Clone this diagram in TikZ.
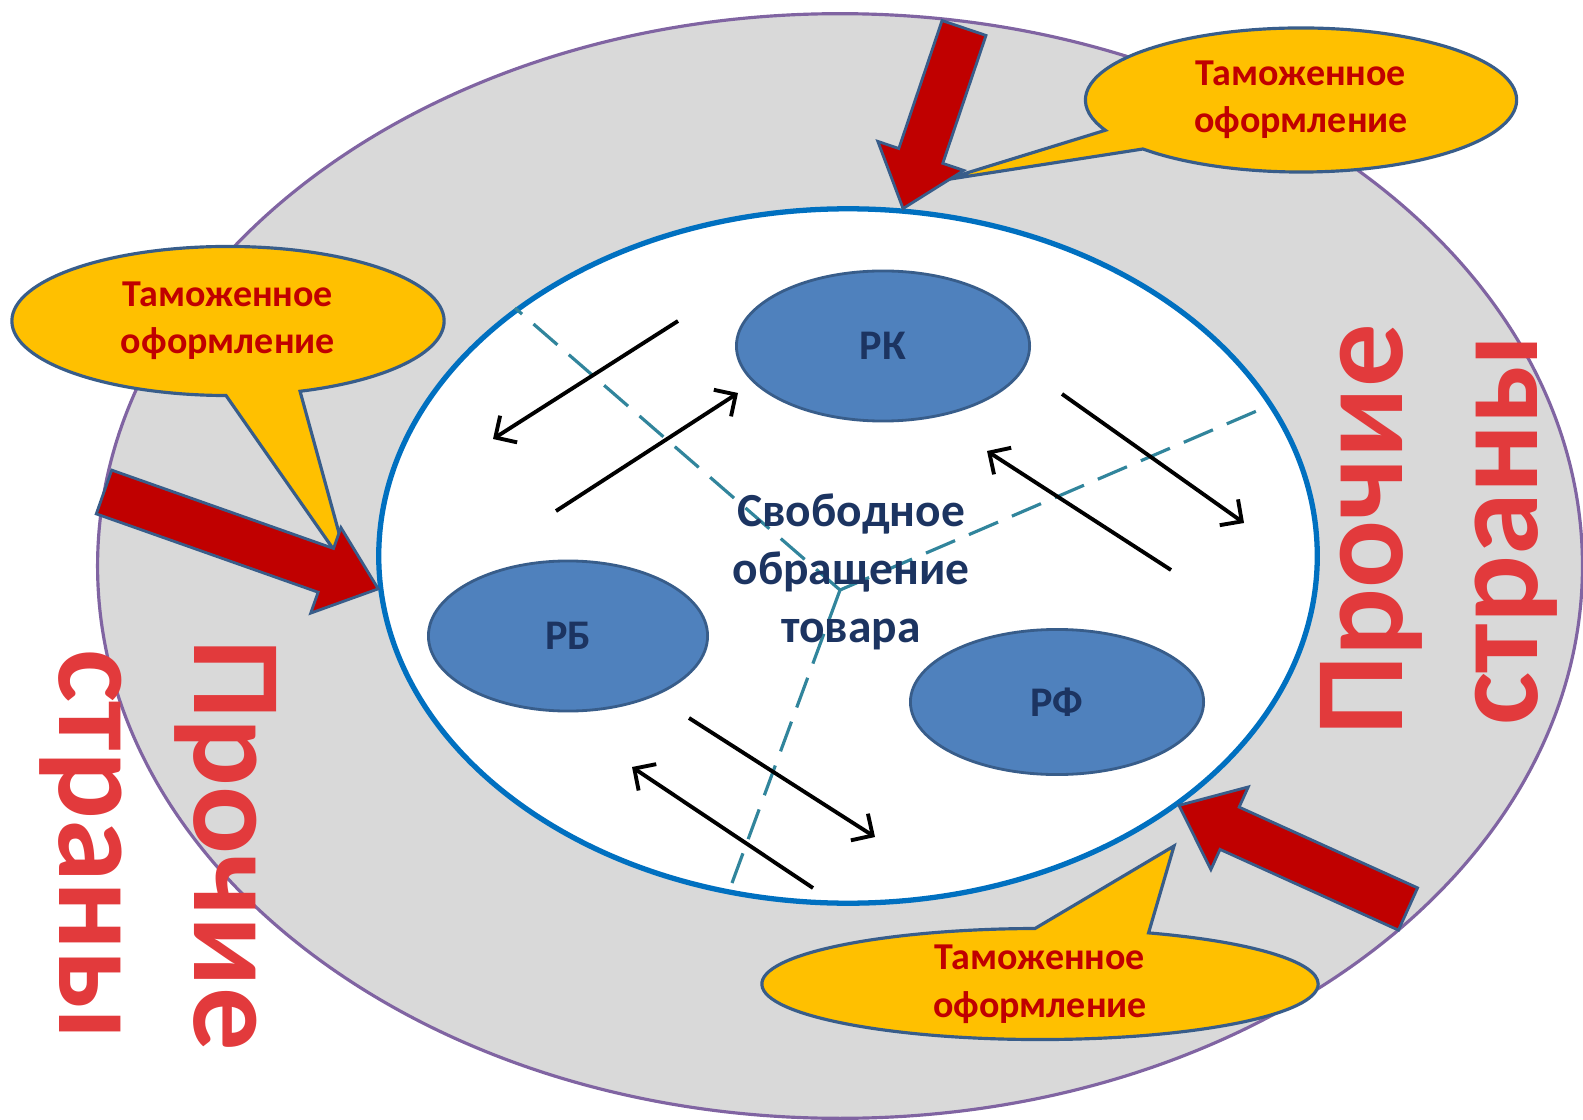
\documentclass[tikz,border=0pt]{standalone}
\usepackage{fontspec}
\setmainfont{Carlito}
\usepackage{tikz}
\usetikzlibrary{shapes.geometric,shapes.callouts,calc,arrows.meta}

\definecolor{ringfill}{HTML}{D9D9D9}
\definecolor{ringline}{HTML}{8064A2}
\definecolor{unionline}{HTML}{0070C0}
\definecolor{countryfill}{HTML}{4F81BD}
\definecolor{edgeblue}{HTML}{385D8A}
\definecolor{navy}{HTML}{1C3461}
\definecolor{zoneline}{HTML}{31859C}
\definecolor{calloutfill}{HTML}{FFC000}
\definecolor{darkred}{HTML}{C00000}
\definecolor{wordred}{HTML}{E23A3C}

\tikzset{
  country/.style={ellipse, fill=countryfill, draw=edgeblue, line width=0.8pt, inner sep=0pt,
    minimum width=2.93cm, minimum height=1.5cm, font=\fontsize{12}{14}\selectfont\bfseries, text=navy},
  customs/.style={ellipse callout, fill=calloutfill, draw=edgeblue, line width=0.9pt,
    inner xsep=0pt, inner ysep=-4pt, align=center,
    font=\fontsize{10.8}{13.5}\selectfont\bfseries, text=darkred},
  redarrow/.style={fill=darkred, draw=edgeblue, line width=0.8pt, line join=miter},
  flow/.style={-{Straight Barb[length=4.5pt,width=9pt]}, line width=1.1pt},
  zone/.style={zoneline, line width=0.9pt, dash pattern=on 9pt off 4.3pt},
  others/.style={inner sep=0pt, align=center, text=wordred,
    font=\fontsize{36}{38.4}\selectfont\bfseries}
}

% thick block arrow from #1 (tail) to #2 (tip), #3 names the head base
\newcommand{\bigarrow}[3]{%
  \coordinate (#3) at ($(#2)!15.8pt!(#1)$);
  \draw[redarrow] ($(#1)!6.6pt!90:(#2)$) -- ($(#3)!6.6pt!90:(#2)$) -- ($(#3)!12.9pt!90:(#2)$)
    -- (#2) -- ($(#3)!12.9pt!-90:(#2)$) -- ($(#3)!6.6pt!-90:(#2)$) -- ($(#1)!6.6pt!-90:(#2)$) -- cycle;}

\begin{document}
\begin{tikzpicture}[x=0.01cm, y=-0.01cm]
\useasboundingbox (0,0) rectangle (1583,1119);

%rings
\node[ellipse, fill=ringfill, draw=ringline, line width=0.9pt, inner sep=0pt,
  minimum width=14.84cm, minimum height=11.04cm] (world) at (840,566) {};
\node[ellipse, fill=white, draw=unionline, line width=1.5pt, inner sep=0pt,
  minimum width=9.38cm, minimum height=6.94cm] (union) at (848,556) {};

%borders between the states
\coordinate (mid) at (840,590);
\coordinate (d1) at (515,308);
\coordinate (d2) at (1266,407);
\coordinate (d3) at (732,883);
\foreach \i in {1,2,3} \draw[zone] (mid) -- (d\i);

%trade flows
\coordinate (a1) at (678,321); \coordinate (b1) at (493,439);
\coordinate (a2) at (556,511); \coordinate (b2) at (738,393);
\coordinate (a3) at (1062,394); \coordinate (b3) at (1244,523);
\coordinate (a4) at (1171,570); \coordinate (b4) at (987,451);
\coordinate (a5) at (689,718); \coordinate (b5) at (875,837);
\coordinate (a6) at (813,888); \coordinate (b6) at (632,767);
\foreach \i in {1,...,6} \draw[flow] (a\i) -- (b\i);

%states
\node[country] (rk) at (883,346) {РК};
\node[country, minimum width=2.79cm] (rb) at (568,636) {РБ};
\node[country, minimum height=1.45cm] (rf) at (1057,702) {РФ};

\node[align=center, text=navy, font=\fontsize{13.5}{16.5}\selectfont\bfseries] (free) at (851,572)
  {Свободное\\обращение\\товара};

%customs callouts
\coordinate (pA) at (944,180);
\coordinate (pB) at (350,573);
\coordinate (pC) at (1174,846);
\node[customs, minimum width=4.31cm, minimum height=1.44cm, callout absolute pointer={(pA)},
  callout pointer arc=18] (cA) at (1301,100) {Таможенное\\оформление};
\node[customs, minimum width=4.32cm, minimum height=1.49cm, callout absolute pointer={(pB)},
  callout pointer arc=20] (cB) at (228,321) {Таможенное\\оформление};
\node[customs, minimum width=5.56cm, minimum height=1.11cm, callout absolute pointer={(pC)},
  callout pointer arc=24] (cC) at (1040,984) {Таможенное\\оформление};

%import arrows
\coordinate (tA) at (964,28);
\coordinate (tB) at (104,492);
\coordinate (tC) at (1408,909);
\bigarrow{tA}{union.81.5}{hA}
\bigarrow{tB}{union.184.9}{hB}
\bigarrow{tC}{union.-37.8}{hC}

%other countries
\node[others, rotate=90, anchor=north] (restR) at (1320,530) {Прочие\\страны};
\node[others, rotate=-90, anchor=north] (restL) at (277,845) {Прочие\\страны};

\end{tikzpicture}
\end{document}
